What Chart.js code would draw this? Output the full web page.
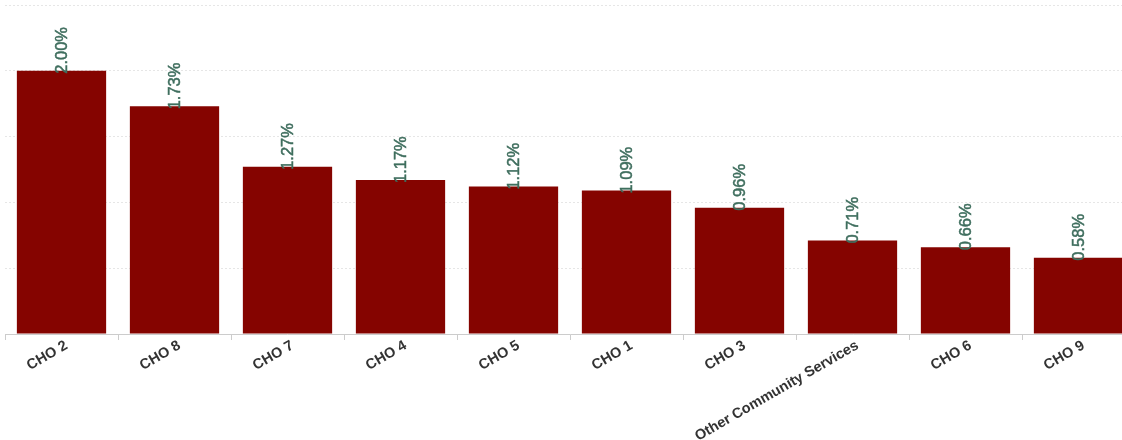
<!DOCTYPE html>
<html>
<head>
<meta charset="utf-8">
<script src="https://cdn.jsdelivr.net/npm/chart.js@4/dist/chart.umd.min.js"></script>
<style>
  html, body { margin: 0; padding: 0; background: #fff; overflow: hidden; }
  #wrap { width: 1140px; height: 440px; position: relative; }
</style>
</head>
<body>
<div id="wrap"><canvas id="barChart"></canvas></div>
<script>
// categorias e valores (%)
const categories = ['CHO 2', 'CHO 8', 'CHO 7', 'CHO 4', 'CHO 5', 'CHO 1', 'CHO 3', 'Other Community Services', 'CHO 6', 'CHO 9'];
const values = [2.00, 1.73, 1.27, 1.17, 1.12, 1.09, 0.96, 0.71, 0.66, 0.58];
const yTicks = [0, 0.5, 1, 1.5, 2, 2.5];

// escreve o valor de cada barra na vertical, a partir do topo
const barLabels = {
  id: 'barLabels',
  afterDatasetsDraw(chart) {
    const ctx = chart.ctx;
    const meta = chart.getDatasetMeta(0);
    ctx.save();
    ctx.font = '16.5px "Liberation Sans", Arial, sans-serif';
    ctx.fillStyle = '#3f6e5e';
    ctx.strokeStyle = '#3f6e5e';
    ctx.lineWidth = 0.5;
    ctx.textAlign = 'left';
    ctx.textBaseline = 'middle';
    meta.data.forEach((bar, i) => {
      const txt = values[i].toFixed(2) + '%';
      ctx.save();
      ctx.translate(bar.x + 1, bar.y + 3);
      ctx.rotate(-Math.PI / 2);
      ctx.fillText(txt, 0, 0);
      ctx.strokeText(txt, 0, 0);
      ctx.restore();
    });
    ctx.restore();
  }
};

const ctx = document.getElementById('barChart').getContext('2d');
new Chart(ctx, {
  type: 'bar',
  data: {
    labels: categories,
    datasets: [{
      data: values,
      backgroundColor: '#850400',
      borderWidth: 0,
      categoryPercentage: 0.79,
      barPercentage: 1
    }]
  },
  options: {
    responsive: true,
    maintainAspectRatio: false,
    animation: false,
    layout: { padding: { left: 5, right: 5, top: 5, bottom: 0 } },
    plugins: {
      legend: { display: false },
      tooltip: { enabled: false }
    },
    scales: {
      x: {
        offset: true,
        grid: { drawOnChartArea: false, drawTicks: true, tickLength: 6, color: '#cccccc', offset: true },
        border: { display: true, color: '#cccccc', width: 1 },
        ticks: {
          color: '#333333',
          font: { family: '"Liberation Sans", Arial, sans-serif', size: 14.5, weight: 'bold' },
          minRotation: 30,
          maxRotation: 30,
          autoSkip: false,
          padding: -3,
          labelOffset: 5
        },
        afterFit: axis => { axis.height = 106; }
      },
      y: {
        min: 0,
        max: 2.5,
        afterBuildTicks: axis => { axis.ticks = yTicks.map(v => ({ value: v })); },
        ticks: { display: false },
        grid: { color: '#e6e6e6', drawTicks: false },
        border: { display: false, dash: [2, 2] },
        afterFit: axis => { axis.width = 0; }
      }
    }
  },
  plugins: [barLabels]
});
</script>
</body>
</html>
